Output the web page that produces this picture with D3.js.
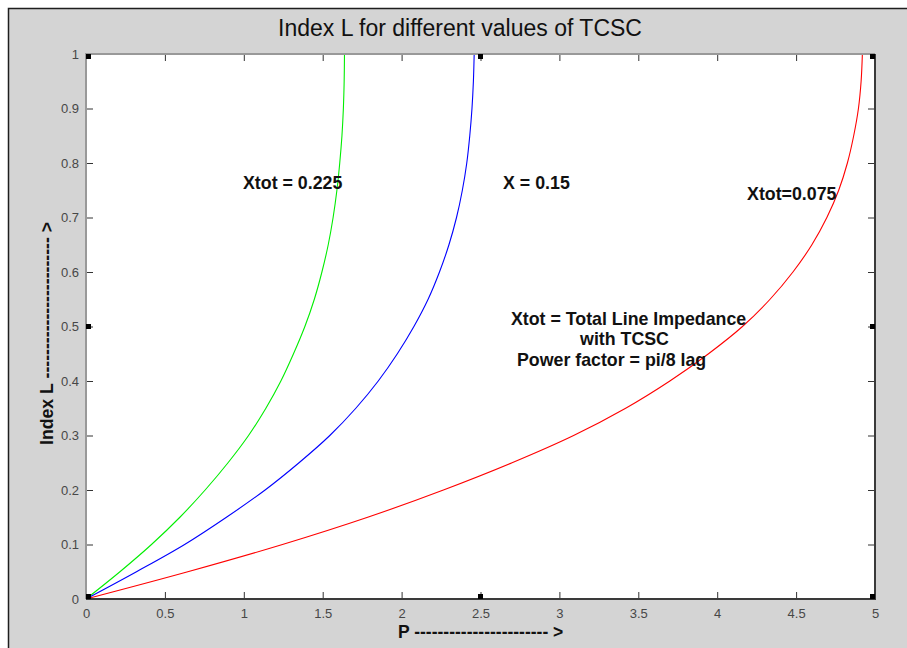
<!DOCTYPE html>
<html>
<head>
<meta charset="utf-8">
<script src="https://cdn.jsdelivr.net/npm/d3@7"></script>
<style>
  html, body { margin: 0; padding: 0; background: #ffffff; }
  svg { display: block; font-family: "Liberation Sans", Arial, Helvetica, sans-serif; }
</style>
</head>
<body>
<svg id="chart" width="907" height="648"></svg>
<script>
// Index L levels (shared y values) and the load P reached at each level
const indexLevels = [0, 0.05, 0.1, 0.15, 0.2, 0.25, 0.3, 0.35, 0.4, 0.45, 0.5,
                     0.55, 0.6, 0.65, 0.7, 0.75, 0.8, 0.85, 0.9, 0.95, 1.0];
const pXtot0225 = [0, 0.215, 0.415, 0.595, 0.755, 0.90, 1.03, 1.14, 1.235, 1.315, 1.387,
                   1.447, 1.495, 1.535, 1.566, 1.59, 1.608, 1.622, 1.631, 1.636, 1.638];
const pX015     = [0, 0.32, 0.625, 0.89, 1.135, 1.35, 1.545, 1.71, 1.852, 1.973, 2.078,
                   2.168, 2.24, 2.3, 2.348, 2.385, 2.413, 2.432, 2.446, 2.455, 2.46];
const pXtot0075 = [0, 0.645, 1.245, 1.785, 2.265, 2.70, 3.09, 3.42, 3.70, 3.945, 4.16,
                   4.335, 4.48, 4.60, 4.695, 4.77, 4.825, 4.865, 4.895, 4.912, 4.92];

const xTicks = [0, 0.5, 1, 1.5, 2, 2.5, 3, 3.5, 4, 4.5, 5];
const xTickLabels = ["0", "0.5", "1", "1.5", "2", "2.5", "3", "3.5", "4", "4.5", "5"];
const yTicks = [0, 0.1, 0.2, 0.3, 0.4, 0.5, 0.6, 0.7, 0.8, 0.9, 1];
const yTickLabels = ["0", "0.1", "0.2", "0.3", "0.4", "0.5", "0.6", "0.7", "0.8", "0.9", "1"];

const titleText = "Index L for different values of TCSC";
const xLabelText = "P ----------------------- >";
const yLabelText = "Index L ------------------------ >";

const W = 907, H = 648;
const margin = { left: 86, right: 32, top: 54, bottom: 49 };

const svg = d3.select("#chart");

// figure panel
svg.append("rect").attr("x", 8).attr("y", 8).attr("width", W).attr("height", H)
  .attr("fill", "#d4d4d4");
svg.append("path").attr("d", `M8.5,${H} V8.5 H${W}`)
  .attr("fill", "none").attr("stroke", "#1e1e1e").attr("stroke-width", 1.5);

const x = d3.scaleLinear().domain([0, 5]).range([margin.left, W - margin.right]);
const y = d3.scaleLinear().domain([0, 1]).range([H - margin.bottom, margin.top]);

const x0 = x(0), x1 = x(5), y0 = y(0), y1 = y(1);

// axes background
svg.append("rect").attr("x", x0).attr("y", y1).attr("width", x1 - x0).attr("height", y0 - y1)
  .attr("fill", "#ffffff");

// ticks on all four sides, pointing inward
const tickLen = 7;
function styleAxis(g) {
  g.select(".domain").remove();
  g.selectAll(".tick line").attr("stroke", "#333");
  g.selectAll(".tick text").attr("fill", "#474747").attr("font-size", 13);
}
svg.append("g").attr("transform", `translate(0,${y0})`)
  .call(d3.axisBottom(x).tickValues(xTicks).tickFormat((d, i) => xTickLabels[i])
        .tickSize(-tickLen).tickPadding(10))
  .call(styleAxis);
svg.append("g").attr("transform", `translate(0,${y1})`)
  .call(d3.axisTop(x).tickValues(xTicks).tickFormat("").tickSize(-tickLen))
  .call(styleAxis);
svg.append("g").attr("transform", `translate(${x0},0)`)
  .call(d3.axisLeft(y).tickValues(yTicks).tickFormat((d, i) => yTickLabels[i])
        .tickSize(-tickLen).tickPadding(7))
  .call(styleAxis);
svg.append("g").attr("transform", `translate(${x1},0)`)
  .call(d3.axisRight(y).tickValues(yTicks).tickFormat("").tickSize(-tickLen))
  .call(styleAxis);

// curves
const series = [
  { p: pXtot0225, color: "#00ee00" },
  { p: pX015,     color: "#0000ff" },
  { p: pXtot0075, color: "#ff0000" }
];
const line = d3.line()
  .x(d => x(d[0])).y(d => y(d[1]))
  .curve(d3.curveCatmullRom.alpha(0.5));
series.forEach(s => {
  const pts = s.p.map((p, i) => [p, indexLevels[i]]);
  svg.append("path").datum(pts)
    .attr("d", line)
    .attr("fill", "none")
    .attr("stroke", s.color)
    .attr("stroke-width", 1.1);
});

// axes box: light top/left, dark bottom/right
svg.append("path").attr("d", `M${x0},${y0} V${y1} H${x1}`)
  .attr("fill", "none").attr("stroke", "#999").attr("stroke-width", 2);
svg.append("path").attr("d", `M${x0},${y0} H${x1} V${y1}`)
  .attr("fill", "none").attr("stroke", "#3a3a3a").attr("stroke-width", 2);

// selection handles on the axes box
const hs = 5;
const handles = [[0, 1], [2.5, 1], [5, 1], [0, 0.5], [5, 0.5], [0, 0], [2.5, 0], [5, 0]];
handles.forEach(([hp, hl]) => {
  let hx = x(hp), hy = y(hl);
  hx = hp === 0 ? hx : (hp === 5 ? hx - hs : hx - hs / 2);
  hy = hl === 1 ? hy : (hl === 0 ? hy - hs : hy - hs / 2);
  svg.append("rect").attr("x", hx).attr("y", hy).attr("width", hs).attr("height", hs)
    .attr("fill", "#000");
});

// title
svg.append("text").attr("x", 460).attr("y", 36)
  .attr("text-anchor", "middle").attr("font-size", 23).attr("fill", "#111")
  .text(titleText);

// axis labels
svg.append("text").attr("x", 398).attr("y", 638)
  .attr("font-size", 17.5).attr("font-weight", "bold").attr("fill", "#111")
  .text(xLabelText);
svg.append("text").attr("transform", `translate(53,445) rotate(-90)`)
  .attr("font-size", 17.7).attr("font-weight", "bold").attr("fill", "#111")
  .text(yLabelText);

// annotations
const notes = [
  { t: "Xtot = 0.225", p: 0.995, l: 0.752 },
  { t: "X = 0.15", p: 2.643, l: 0.752 },
  { t: "Xtot=0.075", p: 4.189, l: 0.732 },
  { t: "Xtot = Total Line Impedance", p: 2.693, l: 0.503 },
  { t: "with TCSC", p: 3.131, l: 0.466 },
  { t: "Power factor = pi/8 lag", p: 2.731, l: 0.4275 }
];
svg.append("g").selectAll("text").data(notes).join("text")
  .attr("x", d => x(d.p)).attr("y", d => y(d.l))
  .attr("font-size", 17.8).attr("font-weight", "bold").attr("fill", "#111")
  .text(d => d.t);
</script>
</body>
</html>
